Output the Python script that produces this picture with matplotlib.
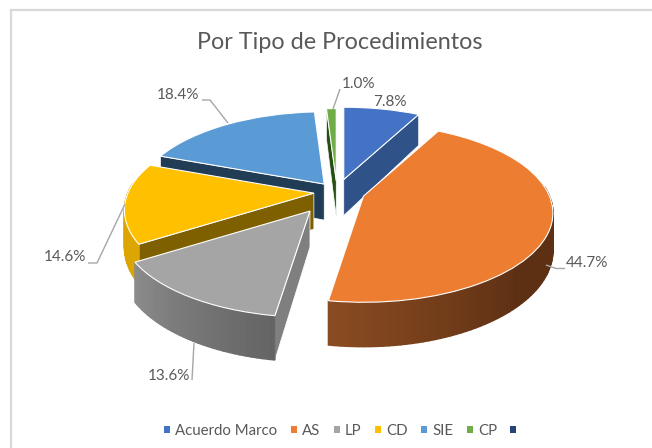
import numpy as np
import matplotlib
matplotlib.use("Agg")
import matplotlib.pyplot as plt
from matplotlib.patches import Patch, Polygon
from matplotlib.transforms import Transform, Affine2D

plt.rcParams['font.family'] = ['Lato', 'DejaVu Sans']

# ---- data ----
TITLE = "Por Tipo de Procedimientos"
categories = ["Acuerdo Marco", "AS", "LP", "CD", "SIE", "CP", " "]
values = [7.8, 44.7, 13.6, 14.6, 18.4, 1.0, 0.0]

# ---- styles ----
top_colors = ["#4472C4", "#ED7D31", "#A5A5A5", "#FFC000", "#5B9BD5", "#70AD47", "#264478"]
radial_colors = ["#2F5289", "#9E480E", "#7F7F7F", "#7F6000", "#203D55", "#274E13", "#264478"]
outer_light = ["#2F5289", "#8A4C22", "#8C8C8C", "#E0A800", "#2E6DA4", "#43682B", "#264478"]
outer_dark = ["#2F5289", "#5E3013", "#646464", "#D9A300", "#255E91", "#43682B", "#264478"]
explode = [0.15, 0.15, 0.265, 0.125, 0.115, 0.13, 0.0]
draw_order = [4, 5, 0, 3, 2, 1]
TXT = "#595959"
LEAD = "#A6A6A6"

W, H = 652, 448
CX, CY = 337.0, 192.0
RX, RY, K, DEPTH = 186.0, 86.0, 0.19, 36.0


class Tilt(Transform):
    """Perspective view of the unit pie plane, in pixel-like data units."""
    input_dims = output_dims = 2
    has_inverse = False

    def __init__(self, z=0.0):
        super().__init__()
        self.z = z

    def transform_non_affine(self, xy):
        xy = np.asarray(xy, float)
        w = 1 + K * xy[:, 1]
        return np.column_stack([RX * xy[:, 0] / w, -RY * xy[:, 1] / w + self.z / w])


def project(x, y, z=0.0):
    return Tilt(z).transform_non_affine(np.column_stack([x, y]))


def cross(a, b):
    return a[0] * b[1] - a[1] * b[0]


fig = plt.figure(figsize=(W / 100, H / 100), dpi=100, facecolor="white")
ax = fig.add_axes([0, 0, 1, 1])

wedges, _ = ax.pie(values, startangle=90, counterclock=False, radius=1.0,
                   wedgeprops=dict(edgecolor="white", linewidth=0.8),
                   colors=top_colors)
ax.set_aspect("auto")
ax.set_xlim(0, W)
ax.set_ylim(H, 0)
ax.set_axis_off()
wedges[6].set_visible(False)

ang = np.concatenate([[0], np.cumsum(values)]) / np.sum(values) * 2 * np.pi
zo = 2
for i in draw_order:
    t1, t2 = ang[i], ang[i + 1]
    mid = (t1 + t2) / 2
    off = np.array([CX + RX * explode[i] * np.sin(mid), CY - RY * explode[i] * np.cos(mid)])
    m = project(np.array([np.sin(mid)]), np.array([np.cos(mid)]))[0]

    # radial side walls, only those that face the viewer
    for t in (t1, t2):
        a = project(np.array([0.0, np.sin(t)]), np.array([0.0, np.cos(t)]))
        b = project(np.array([0.0, np.sin(t)]), np.array([0.0, np.cos(t)]), DEPTH)
        v = a[1] - a[0]
        if cross(v, (0, 1)) * cross(v, m) >= 0 or abs(v[0]) < 1e-6:
            continue
        pts = np.vstack([a, b[::-1]]) + off
        ax.add_patch(Polygon(pts, closed=True, facecolor=radial_colors[i],
                             edgecolor="white", linewidth=0.5, zorder=zo))
    zo += 1

    # rim, built as thin shaded strips
    n = max(2, int(np.degrees(t2 - t1) / 1.5))
    edges = np.linspace(t1, t2, n + 1)
    light = np.array(matplotlib.colors.to_rgb(outer_light[i]))
    dark = np.array(matplotlib.colors.to_rgb(outer_dark[i]))
    for s0, s1 in zip(edges[:-1], edges[1:]):
        if np.cos((s0 + s1) / 2) > 0.12:
            continue
        a = project(np.sin([s0, s1]), np.cos([s0, s1]))
        b = project(np.sin([s0, s1]), np.cos([s0, s1]), DEPTH)
        pts = np.vstack([a, b[::-1]]) + off
        deg = np.degrees((s0 + s1) / 2)
        if i == 1:
            f = np.clip((deg - 135) / 54, 0, 1)
        elif i == 2:
            f = np.clip((deg - 189) / 49, 0, 1)
        else:
            f = 0.5
        c = dark + (light - dark) * f
        ax.add_patch(Polygon(pts, closed=True, facecolor=c, edgecolor=c,
                             linewidth=1.0, zorder=zo))
    zo += 1

    # top surface: the pie's own wedge, tilted and moved out
    wedges[i].set_transform(Tilt() + Affine2D().translate(*off) + ax.transData)
    wedges[i].set_zorder(zo)
    wedges[i].set_clip_on(False)
    zo += 1

# chart frame (top and left only are inside the crop)
ax.plot([10.5, 10.5, W], [H, 10.5, 10.5], color="#D9D9D9", lw=1.6, zorder=1,
        solid_joinstyle="miter")

ax.text(340, 42.5, TITLE, ha="center", va="center", fontsize=16.8, color=TXT, zorder=50)

# data labels with leader lines
labels = [f"{v:.1f}%" for v in values]
FS = 11
ax.text(390, 102, labels[0], ha="center", va="center", fontsize=FS, color=TXT, zorder=50)
ax.text(587, 263, labels[1], ha="center", va="center", fontsize=FS, color=TXT, zorder=50)
ax.text(169, 376, labels[2], ha="center", va="center", fontsize=FS, color=TXT, zorder=50)
ax.text(65, 257, labels[3], ha="center", va="center", fontsize=FS, color=TXT, zorder=50)
ax.text(178, 95, labels[4], ha="center", va="center", fontsize=FS, color=TXT, zorder=50)
ax.text(359, 84, labels[5], ha="center", va="center", fontsize=FS, color=TXT, zorder=50)
for xs, ys in [([546, 556, 565], [265, 268.5, 268.5]),
               ([192, 194], [380, 343]),
               ([88, 97, 125], [263, 263, 204]),
               ([202, 210, 228], [100, 100, 123]),
               ([333, 340], [109, 89])]:
    ax.plot(xs, ys, color=LEAD, lw=1.0, zorder=49, solid_capstyle="butt")

handles = [Patch(facecolor=c, edgecolor="none") for c in top_colors]
ax.legend(handles, categories, loc="center left", bbox_to_anchor=(164 / W, 1 - 431 / H),
          ncol=7, frameon=False, fontsize=10.8, labelcolor=TXT, handlelength=0.4,
          handleheight=0.4, handletextpad=0.36, columnspacing=0.88, borderpad=0,
          borderaxespad=0)

fig.savefig("out.png", dpi=100)
